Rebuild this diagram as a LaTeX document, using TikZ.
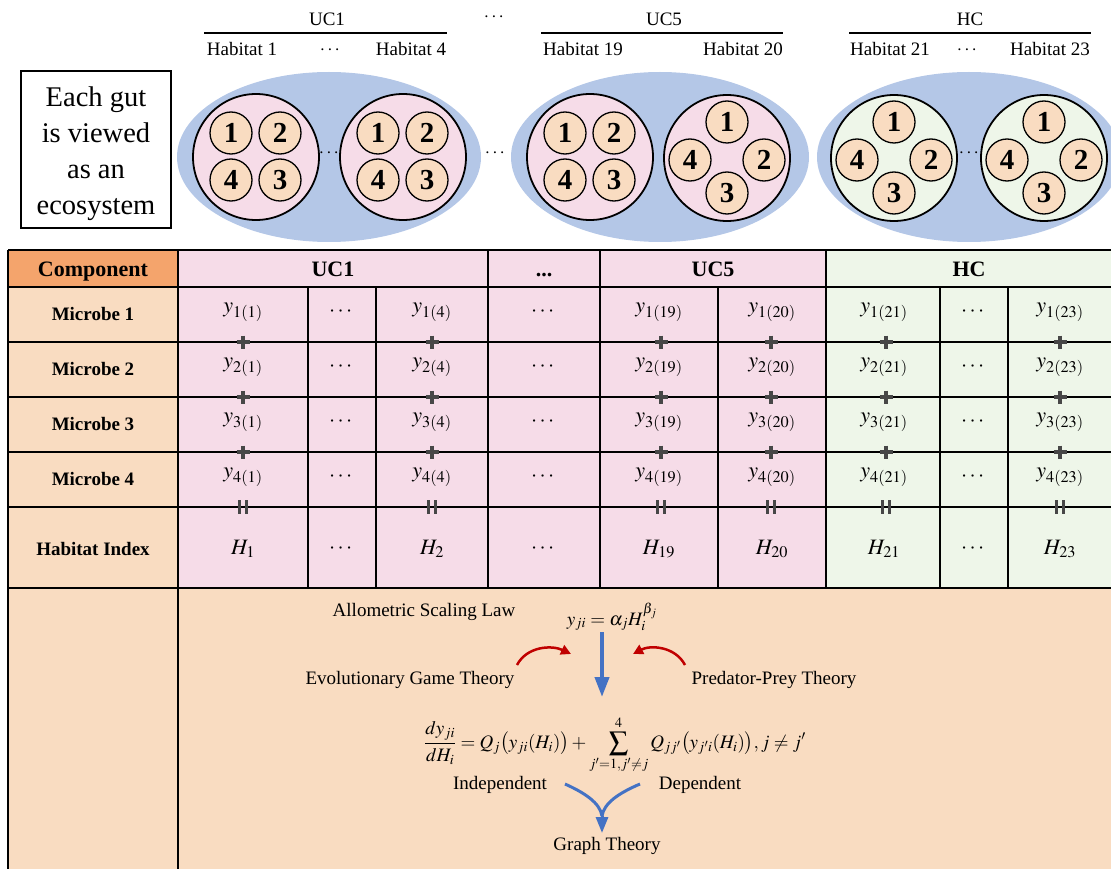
\documentclass[tikz,border=0pt]{standalone}
\usepackage{amsmath}
\usepackage{mathptmx}
\usepackage{fontspec}
\setmainfont{Liberation Serif}
\usetikzlibrary{arrows.meta}

\definecolor{gutblue}{HTML}{B4C7E7}
\definecolor{ucpink}{HTML}{F6DCE8}
\definecolor{hcgreen}{HTML}{EEF6E9}
\definecolor{peach}{HTML}{F9DCC1}
\definecolor{compor}{HTML}{F4A46C}
\definecolor{opgray}{HTML}{474747}
\definecolor{flowblue}{HTML}{4472C4}
\definecolor{flowred}{HTML}{C00000}

\tikzset{
  lab/.style={font=\fontsize{19}{22}\selectfont, inner sep=0pt},
  hdr/.style={font=\fontsize{22}{26}\selectfont\bfseries, inner sep=0pt,
    text height=15pt, text depth=0pt},
  rowlab/.style={font=\fontsize{19}{22}\selectfont\bfseries, inner sep=0pt},
  cell/.style={font=\fontsize{22}{26}\selectfont, inner sep=0pt},
  microbe/.style={circle, draw=black, line width=1.3pt, fill=peach,
    minimum size=42pt, inner sep=0pt, font=\fontsize{29}{30}\selectfont\bfseries},
  habitat/.style={circle, draw=black, line width=1.8pt, minimum size=126pt, inner sep=0pt},
  gridline/.style={line width=1.7pt, black},
  opmark/.style={opgray, line width=3.6pt},
  bigdown/.style={flowblue, line width=4pt, -{Triangle[width=14pt,length=20pt]}},
  redcurve/.style={flowred, line width=2.5pt, -{Triangle[width=10pt,length=10pt]}},
  bluecurve/.style={flowblue, line width=3pt},
}

% habitat circle with four microbes in a 2x2 grid
\newcommand\squarehab[4]{%
  \node[habitat, fill=#4] (#1) at (#2,#3) {};
  \begin{scope}[shift={(#2,#3)}]
    \node[microbe] (#1-m1) at (-25,-24) {1};
    \node[microbe] (#1-m2) at (24,-24) {2};
    \node[microbe] (#1-m4) at (-25,23) {4};
    \node[microbe] (#1-m3) at (24,23) {3};
  \end{scope}}
% habitat circle with four microbes on a diamond
\newcommand\diamondhab[4]{%
  \node[habitat, fill=#4] (#1) at (#2,#3) {};
  \begin{scope}[shift={(#2,#3)}]
    \node[microbe] (#1-m1) at (0,-36) {1};
    \node[microbe] (#1-m4) at (-37,2) {4};
    \node[microbe] (#1-m2) at (37,2) {2};
    \node[microbe] (#1-m3) at (0,35) {3};
  \end{scope}}

\begin{document}
\begin{tikzpicture}[x=1pt,y=-1pt]
\useasboundingbox (0,0) rectangle (1111,869);

% ---------- group headers ----------
\node[lab] (g-uc1) at (327,19) {UC1};
\node[lab] (g-dots) at (495,17) {$\cdots$};
\node[lab] (g-uc5) at (664,19) {UC5};
\node[lab] (g-hc) at (970,19) {HC};
\draw[line width=1.3pt] (204,33) -- (447,33);
\draw[line width=1.3pt] (541,33) -- (783,33);
\draw[line width=1.3pt] (849,33) -- (1091,33);
\node[lab] (h1) at (242,49) {Habitat 1};
\node[lab] (h1d) at (331,50) {$\cdots$};
\node[lab] (h4) at (411,49) {Habitat 4};
\node[lab] (h19) at (583,49) {Habitat 19};
\node[lab] (h20) at (743,49) {Habitat 20};
\node[lab] (h21) at (890,49) {Habitat 21};
\node[lab] (h21d) at (968,50) {$\cdots$};
\node[lab] (h23) at (1050,49) {Habitat 23};

% ---------- caption box ----------
\draw[line width=2.3pt] (21,71) rectangle (171,228);
\node[inner sep=0pt, align=center, font=\fontsize{28.5}{36}\selectfont] (gutbox) at (96,154)
  {Each gut\\is viewed\\as an\\ecosystem};

% ---------- gut ecosystems ----------
\fill[gutblue] (329,157) ellipse [x radius=152, y radius=85];
\fill[gutblue] (660,157) ellipse [x radius=149, y radius=85];
\fill[gutblue] (969,157) ellipse [x radius=152, y radius=85];

\squarehab{hab1}{256}{157}{ucpink}
\squarehab{hab4}{403}{157}{ucpink}
\squarehab{hab19}{590}{157}{ucpink}
\diamondhab{hab20}{727}{158}{ucpink}
\diamondhab{hab21}{894}{158}{hcgreen}
\diamondhab{hab23}{1044}{158}{hcgreen}
\node[lab] (d1) at (330,153) {$\cdots$};
\node[lab] (d2) at (496,153) {$\cdots$};
\node[lab] (d3) at (970,153) {$\cdots$};

% ---------- table fills ----------
\fill[compor] (8,250) rectangle (178,287);
\fill[peach] (8,287) rectangle (178,875);
\fill[ucpink] (178,250) rectangle (826,588);
\fill[hcgreen] (826,250) rectangle (1115,588);
\fill[peach] (178,588) rectangle (1115,875);

% ---------- table rules ----------
\foreach \yy in {250,287,342,397,452,507,588}
  \draw[gridline] (8,\yy) -- (1115,\yy);
\foreach \xx in {8,178}
  \draw[gridline] (\xx,250) -- (\xx,875);
\foreach \xx in {488,600,826}
  \draw[gridline] (\xx,250) -- (\xx,588);
\foreach \xx in {308,376,718,940,1008}
  \draw[gridline] (\xx,287) -- (\xx,588);

% ---------- table header ----------
\node[hdr] (t-comp) at (93,269) {Component};
\node[hdr] (t-uc1) at (333,269) {UC1};
\node[hdr] (t-dots) at (544,269) {\textbf{...}};
\node[hdr] (t-uc5) at (713,269) {UC5};
\node[hdr] (t-hc) at (969,269) {HC};

% ---------- row labels ----------
\node[rowlab] (r1) at (93,314) {Microbe 1};
\node[rowlab] (r2) at (93,369) {Microbe 2};
\node[rowlab] (r3) at (93,424) {Microbe 3};
\node[rowlab] (r4) at (93,479) {Microbe 4};
\node[rowlab] (r5) at (93,549) {Habitat Index};

% ---------- abundance cells ----------
\foreach \j/\yy in {1/312,2/367,3/422,4/477}{
  \node[cell] (c\j-1) at (243,\yy) {$y_{\j(1)}$};
  \node[cell] (c\j-2) at (342,\yy) {$\cdots$};
  \node[cell] (c\j-3) at (432,\yy) {$y_{\j(4)}$};
  \node[cell] (c\j-4) at (544,\yy) {$\cdots$};
  \node[cell] (c\j-5) at (659,\yy) {$y_{\j(19)}$};
  \node[cell] (c\j-6) at (772,\yy) {$y_{\j(20)}$};
  \node[cell] (c\j-7) at (884,\yy) {$y_{\j(21)}$};
  \node[cell] (c\j-8) at (974,\yy) {$\cdots$};
  \node[cell] (c\j-9) at (1060,\yy) {$y_{\j(23)}$};
}
\node[cell] (c5-1) at (243,549) {$H_1$};
\node[cell] (c5-2) at (342,549) {$\cdots$};
\node[cell] (c5-3) at (432,549) {$H_2$};
\node[cell] (c5-4) at (544,549) {$\cdots$};
\node[cell] (c5-5) at (659,549) {$H_{19}$};
\node[cell] (c5-6) at (772,549) {$H_{20}$};
\node[cell] (c5-7) at (884,549) {$H_{21}$};
\node[cell] (c5-8) at (974,549) {$\cdots$};
\node[cell] (c5-9) at (1060,549) {$H_{23}$};

% ---------- plus and equality marks on the rules ----------
\foreach \xx in {243,432,661,771,886,1060}{
  \foreach \yy in {342,397,452}
    \draw[opmark] (\xx-6.5,\yy) -- (\xx+6.5,\yy) (\xx,\yy-6.5) -- (\xx,\yy+6.5);
  \draw[opmark, line width=3pt] (\xx-3.2,500) -- (\xx-3.2,514) (\xx+3.2,500) -- (\xx+3.2,514);
}

% ---------- model derivation ----------
\node[lab] (asl) at (424,612) {Allometric Scaling Law};
\node[lab] (asleq) at (612,617) {$y_{ji} = \alpha_j H_i^{\beta_j}$};
\node[lab] (egt) at (410,680) {Evolutionary Game Theory};
\node[lab] (ppt) at (774,680) {Predator-Prey Theory};
\node[lab] (ode) at (615,745)
  {$\displaystyle\frac{dy_{ji}}{dH_i} = Q_j\bigl(y_{ji}(H_i)\bigr) + \sum_{j'=1,j'\neq j}^{4} Q_{jj'}\bigl(y_{j'i}(H_i)\bigr), j\neq j'$};
\node[lab] (indep) at (500,785) {Independent};
\node[lab] (dep) at (700,785) {Dependent};
\node[lab] (graph) at (607,846) {Graph Theory};

\coordinate (flow-top) at (602,632);
\coordinate (flow-bot) at (602,697);
\coordinate (egt-out) at (517,665);
\coordinate (egt-in) at (571,654);
\coordinate (ppt-out) at (685,665);
\coordinate (ppt-in) at (633,654);
\coordinate (indep-out) at (565,784);
\coordinate (dep-out) at (640,784);
\coordinate (merge) at (602,816);
\coordinate (graph-in) at (602,833);

\draw[bigdown] (flow-top) -- (flow-bot);
\draw[redcurve] (egt-out) .. controls (527,646) and (552,645) .. (egt-in);
\draw[redcurve] (ppt-out) .. controls (675,646) and (650,645) .. (ppt-in);
\draw[bluecurve] (indep-out) .. controls (585,793) and (600,803) .. (merge);
\draw[bluecurve] (dep-out) .. controls (619,793) and (604,803) .. (merge);
\draw[bluecurve, -{Triangle[width=12pt,length=16pt]}] (merge) -- (graph-in);
\end{tikzpicture}
\end{document}
